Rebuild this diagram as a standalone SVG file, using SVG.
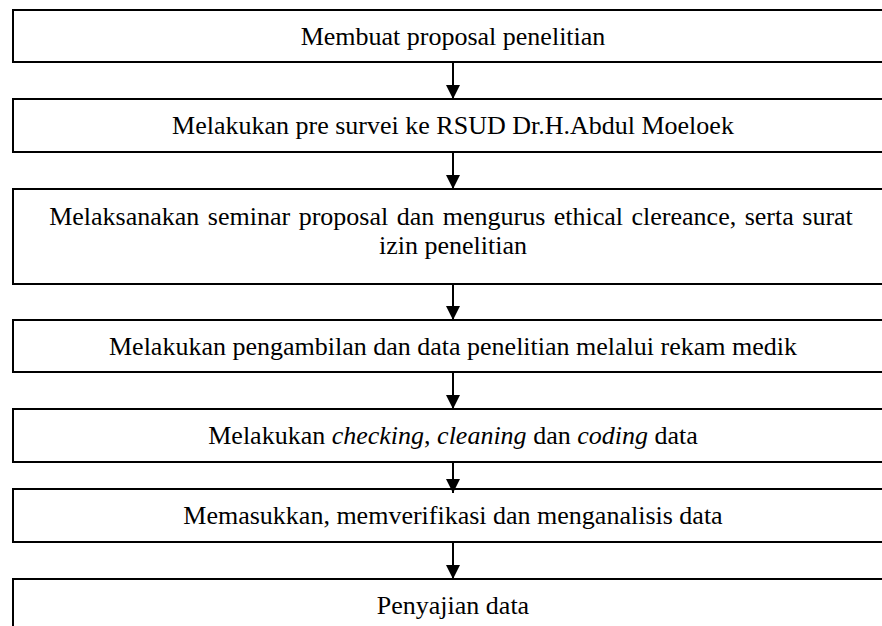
<svg xmlns="http://www.w3.org/2000/svg" width="882" height="626" viewBox="0 0 882 626">
<style>
.box{fill:#fff;stroke:#000;stroke-width:2}
.t{font-family:'Liberation Serif','Times New Roman',Times,serif;font-size:26px;fill:#000;text-anchor:middle}
.i{font-style:italic}
.c{stroke:#000;stroke-width:2;fill:none}
</style>
<defs>
<marker id="ah" markerUnits="userSpaceOnUse" markerWidth="14" markerHeight="16" refX="14" refY="7" orient="auto" viewBox="0 0 14 14">
<path d="M0,0 L14,7 L0,14 z" fill="#000"/>
</marker>
</defs>
<rect width="882" height="626" fill="#fff"/>
<g id="n1"><rect class="box" x="13" y="10" width="880" height="52"/><text class="t" x="453" y="45">Membuat proposal penelitian</text></g>
<g id="n2"><rect class="box" x="13" y="99" width="880" height="53"/><text class="t" x="453" y="134">Melakukan pre survei ke RSUD Dr.H.Abdul Moeloek</text></g>
<g id="n3"><rect class="box" x="13" y="189" width="880" height="95"/><text class="t" x="451" y="225" word-spacing="2">Melaksanakan seminar proposal dan mengurus ethical clereance, serta surat</text><text class="t" x="453" y="254">izin penelitian</text></g>
<g id="n4"><rect class="box" x="13" y="320" width="880" height="52"/><text class="t" x="453" y="355">Melakukan pengambilan dan data penelitian melalui rekam medik</text></g>
<g id="n5"><rect class="box" x="13" y="409" width="880" height="53"/><text class="t" x="453" y="444">Melakukan <tspan class="i">checking</tspan>, <tspan class="i">cleaning</tspan> dan <tspan class="i">coding</tspan> data</text></g>
<g id="n6"><rect class="box" x="13" y="489" width="880" height="53"/><text class="t" x="453" y="524">Memasukkan, memverifikasi dan menganalisis data</text></g>
<g id="n7"><rect class="box" x="13" y="579" width="880" height="60"/><text class="t" x="453" y="614">Penyajian data</text></g>
<g id="connectors">
<line class="c" x1="453" y1="62" x2="453" y2="99" marker-end="url(#ah)"/>
<line class="c" x1="453" y1="152" x2="453" y2="189" marker-end="url(#ah)"/>
<line class="c" x1="453" y1="284" x2="453" y2="320" marker-end="url(#ah)"/>
<line class="c" x1="453" y1="372" x2="453" y2="409" marker-end="url(#ah)"/>
<line class="c" x1="453" y1="462" x2="453" y2="493" marker-end="url(#ah)"/>
<line class="c" x1="453" y1="542" x2="453" y2="579" marker-end="url(#ah)"/>
</g>
</svg>
